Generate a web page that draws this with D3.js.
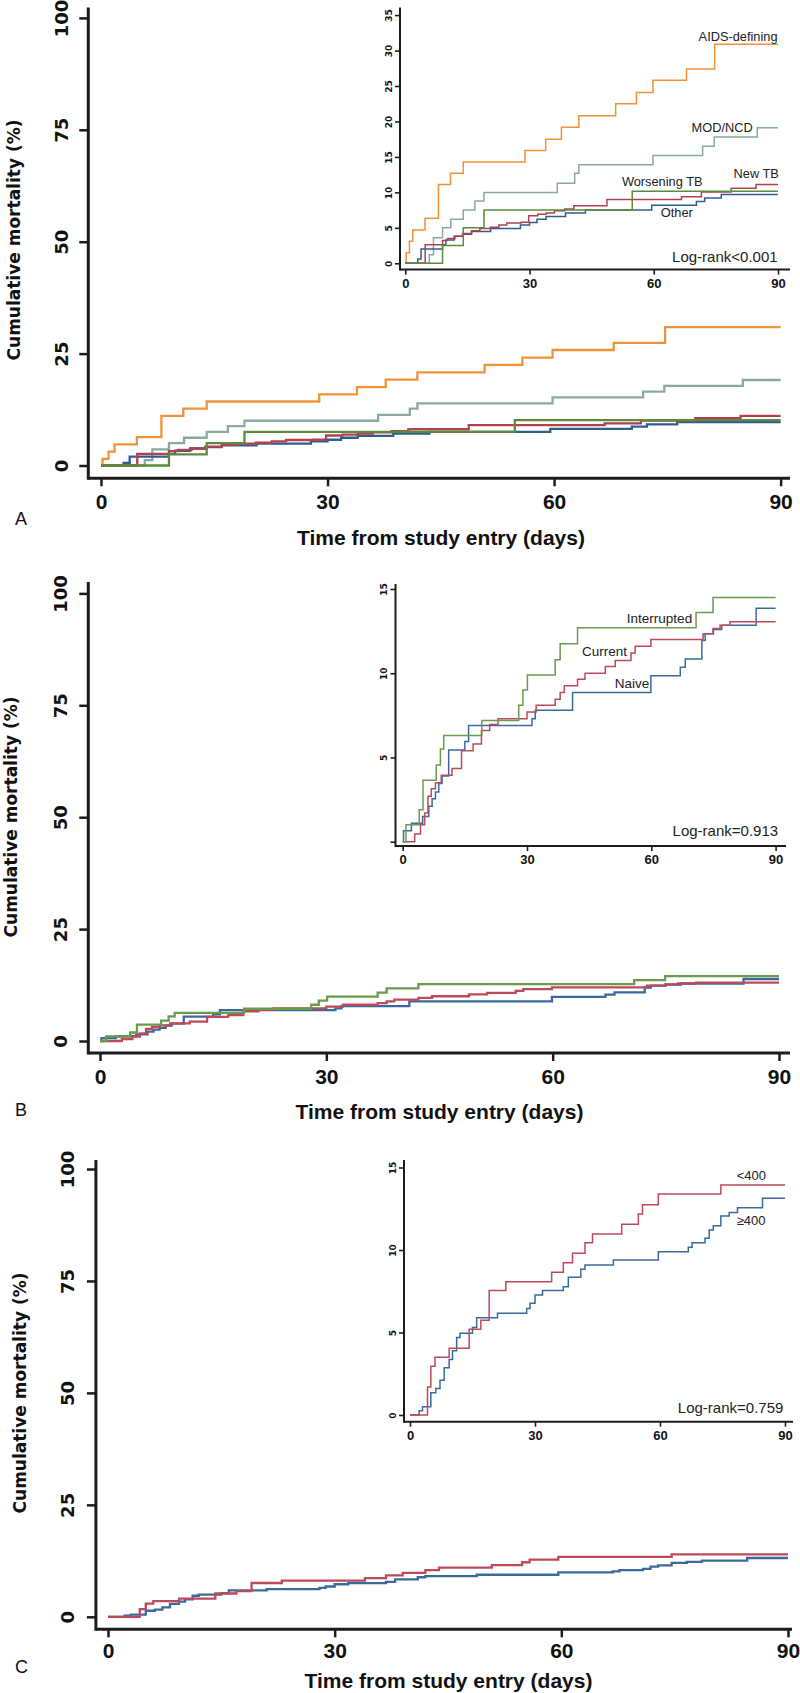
<!DOCTYPE html>
<html><head><meta charset="utf-8">
<script src="https://cdn.jsdelivr.net/npm/d3@7"></script>
<style>
html,body{margin:0;padding:0;background:#fff;}
svg{display:block;}
</style></head><body>
<svg id="chart" width="800" height="1693"></svg>
<script>
// ---------------- DATA ----------------
const timeTicks = [0, 30, 60, 90];
const mainYTicks = [0, 25, 50, 75, 100];
const insetAYTicks = [0, 5, 10, 15, 20, 25, 30, 35];
const insetBYTicks = [0, 5, 10, 15];
const insetCYTicks = [0, 5, 10, 15];

// Panel A: cause of death  ([day, cumulative mortality %])
const aAidsDefining = [[0,0],[0.2,1.5],[1,3.1],[1.8,4.7],[4.75,6.35],[8,11.1],[10.9,12.7],[14,14.3],[28.9,15.9],[33.9,17.5],[37.7,19.2],[41.9,20.8],[50.8,22.5],[55.8,24.1],[59.8,25.8],[67.9,27.4],[74.7,30.9],[90,30.9]];
const aModNcd = [[0,0],[5.8,1.2],[6.8,3.6],[9,5.0],[11,6.2],[14,7.5],[16.8,8.8],[19,10.0],[36.7,11.3],[40.9,12.7],[41.9,13.9],[59.8,15.2],[71.8,16.5],[74.6,17.8],[85,19.1],[90,19.1]];
const aWorseningTb = [[0,0],[9,2.5],[14,5.0],[19,7.5],[54.8,10.15],[90,10.15]];
const aNewTb = [[0,0],[4.8,2.6],[9,3.2],[10.2,3.5],[12,3.8],[13.8,4.2],[16,4.6],[18,4.9],[20.5,5.1],[22.6,5.4],[24.5,5.7],[28,5.8],[29.8,6.7],[32,6.9],[34,7.1],[36,7.4],[38.5,7.65],[40.7,8.1],[48.7,9.0],[66.7,9.4],[71.5,10.05],[78.7,10.6],[84.7,11.1],[90,11.1]];
const aOther = [[0,0],[3,0.6],[3.8,2.0],[9,2.6],[9.8,3.3],[11.8,3.8],[14,4.1],[16,4.5],[20.6,4.9],[27.8,5.4],[30,5.75],[31.8,6.2],[34,6.6],[38.7,7.1],[43.5,7.5],[59.5,8.2],[70.3,8.7],[72.3,9.2],[76.3,9.7],[90,9.7]];

// Panel B: ART status
const bInterrupted = [[0,0],[0.8,1.0],[4,1.9],[4.9,3.65],[8.1,4.55],[9.1,5.5],[9.9,6.3],[19.1,7.2],[28,8.1],[29,9.0],[30.1,9.9],[36.8,10.8],[38,11.75],[42.2,12.7],[70.8,13.6],[74.9,14.5],[90,14.5]];
const bCurrent = [[0,0],[2.9,0.45],[4.3,1.0],[5.3,1.7],[6.1,2.7],[6.9,3.15],[7.9,3.5],[9.3,3.95],[11.9,4.35],[14.2,5.4],[17,5.8],[19,6.6],[21,6.95],[23,7.3],[30,7.7],[32.2,8.1],[36.8,8.45],[38,8.85],[39,9.25],[42.2,9.65],[44,10.0],[48.9,10.4],[51.3,10.75],[55.1,11.2],[56.1,11.6],[59.9,12.0],[72.5,12.35],[74.9,12.65],[76.6,12.85],[79,13.05],[90,13.05]];
const bNaive = [[0,0],[0.2,0.65],[2.1,1.1],[4.8,1.5],[6.3,2.1],[7.1,2.55],[7.9,2.95],[8.7,3.45],[9.5,3.9],[11.1,5.45],[15,5.95],[15.9,6.9],[31.2,7.3],[32,7.8],[41,8.85],[59.9,9.85],[67,10.35],[68.2,10.85],[72.2,11.95],[73,12.35],[75,12.6],[77,12.85],[85.3,13.85],[90,13.85]];

// Panel C: CD4 count
const cBelow400 = [[0,0],[4.2,1.7],[5,2.95],[6,3.5],[9.4,4.05],[14.2,5.2],[17,5.75],[19,7.55],[23,8.08],[34,8.65],[36.8,9.23],[39,9.8],[42,10.44],[43.8,10.97],[50.8,11.56],[54.8,12.18],[55.8,12.75],[59.6,13.39],[74.6,13.94],[90,13.94]];
const cAtLeast400 = [[0,0],[2.2,0.26],[3,0.5],[5,1.35],[6.2,1.6],[7.2,2.1],[8.2,2.87],[9.4,3.37],[10.2,3.9],[11.2,4.7],[12,4.95],[15,5.3],[16,5.9],[21,6.16],[28,6.46],[28.8,6.77],[30,7.27],[31.8,7.54],[36.8,7.78],[38,8.35],[41,8.83],[42,9.09],[48.8,9.39],[59.6,9.9],[66.8,10.16],[67.7,10.44],[70.8,10.71],[71.8,11.21],[72.8,11.47],[74.6,12.06],[76.6,12.28],[78.6,12.56],[84.6,13.13],[90,13.13]];

// Inset labels: [text, day, value, anchor]
const aLabels = [["AIDS-defining",89.9,31.35,"end"],["MOD/NCD",83.9,18.5,"end"],["New TB",90.2,12.0,"end"],["Worsening TB",52.3,10.9,"start"],["Other",61.7,6.5,"start"]];
const bLabels = [["Interrupted",54.1,13.0,"start"],["Current",43.3,11.0,"start"],["Naive",51.2,9.1,"start"]];
const cLabels = [["<400",78.4,14.24,"start"],["\u2265400",78.4,11.5,"start"]];
const logRankA = ["Log-rank<0.001",89.9,0.2];
const logRankB = ["Log-rank=0.913",90.6,0.34];
const logRankC = ["Log-rank=0.759",89.6,0.12];

const panelLetters = ["A","B","C"];
const xTitle = "Time from study entry (days)";
const yTitle = "Cumulative mortality (%)";

// ---------------- STYLE ----------------
const C_ORANGE = "#f0923a", C_GREY = "#8aa8a2", C_GREEN = "#5b8c3c", C_RED = "#b3404f", C_BLUE = "#2f5e8e";
const C_GREEN_B = "#6a9a4c", C_RED_B = "#bd4a5a", C_BLUE_B = "#3a6a9c";
const AX = "#1c1c1c";
const FONT_WIDE = "'DejaVu Sans', Verdana, sans-serif";
const FONT_SANS = "'Liberation Sans', Arial, sans-serif";

const svg = d3.select("#chart");
svg.append("rect").attr("width",800).attr("height",1693).attr("fill","#fff");

function drawPlot(cfg) {
  const g = svg.append("g");
  const x = d3.scaleLinear().domain([0, 90]).range(cfg.xRange);
  const y = d3.scaleLinear().domain([0, cfg.yMax]).range(cfg.yRange);
  const inset = cfg.inset;

  // axis lines (L-shaped)
  g.append("line").attr("x1", cfg.yAxisX).attr("x2", cfg.yAxisX)
    .attr("y1", cfg.yAxisTop).attr("y2", cfg.xAxisY + (inset ? 1 : 1.5))
    .attr("stroke", AX).attr("stroke-width", inset ? 2 : 3);
  g.append("line").attr("x1", cfg.yAxisX).attr("x2", cfg.xAxisRight)
    .attr("y1", cfg.xAxisY).attr("y2", cfg.xAxisY)
    .attr("stroke", AX).attr("stroke-width", inset ? 2 : 3);

  // x axis ticks
  const xa = g.append("g").attr("transform", `translate(0,${cfg.xAxisY})`)
    .call(d3.axisBottom(x).tickValues(timeTicks).tickSize(inset ? 5 : 8).tickSizeOuter(0));
  xa.select(".domain").remove();
  xa.selectAll("line").attr("stroke", AX).attr("stroke-width", inset ? 1.6 : 2.5);
  xa.selectAll("text").attr("y", cfg.xLabelOff).attr("dy", 0)
    .attr("fill", "#111")
    .style("font-family", FONT_SANS).style("font-weight", "bold")
    .style("font-size", inset ? "13px" : "21px");

  // y axis ticks (rotated labels)
  const ya = g.append("g").attr("transform", `translate(${cfg.yAxisX},0)`)
    .call(d3.axisLeft(y).tickValues(cfg.yTicks).tickSize(inset ? 5 : 9).tickSizeOuter(0)
      .tickFormat(d => (cfg.hideZero && d === 0) ? "" : d));
  ya.select(".domain").remove();
  ya.selectAll("line").attr("stroke", AX).attr("stroke-width", inset ? 1.6 : 2.5);
  ya.selectAll("text").attr("x", 0).attr("dy", 0)
    .attr("transform", `translate(${-cfg.yLabelOff},0) rotate(-90)`)
    .attr("text-anchor", "middle").attr("fill", "#111")
    .style("font-family", FONT_WIDE).style("font-weight", "bold")
    .style("font-size", inset ? "9px" : "18px");

  // curves
  const line = d3.line().x(d => x(d[0])).y(d => y(d[1])).curve(d3.curveStepAfter);
  cfg.series.forEach(s => {
    g.append("path").datum(s.data).attr("d", line)
      .attr("fill", "none").attr("stroke", s.color)
      .attr("stroke-width", inset ? 1.5 : 2.3)
      .attr("stroke-linejoin", "miter");
  });

  // labels
  if (cfg.labels) {
    cfg.labels.forEach(l => {
      g.append("text").attr("x", x(l[1])).attr("y", y(l[2]))
        .attr("text-anchor", l[3]).attr("fill", "#222")
        .style("font-family", FONT_SANS).style("font-size", cfg.labelSize + "px")
        .text(l[0]);
    });
  }
  if (cfg.logRank) {
    g.append("text").attr("x", x(cfg.logRank[1])).attr("y", y(cfg.logRank[2]))
      .attr("text-anchor", "end").attr("fill", "#222")
      .style("font-family", FONT_SANS).style("font-size", "15px")
      .text(cfg.logRank[0]);
  }
}

function drawTitles(t) {
  svg.append("text").attr("x", t.letterX).attr("y", t.letterY)
    .style("font-family", FONT_SANS).style("font-size", "18px").attr("fill", "#111")
    .text(t.letter);
  svg.append("text").attr("x", t.xTitleX).attr("y", t.xTitleY)
    .attr("text-anchor", "middle").attr("fill", "#111")
    .style("font-family", FONT_SANS).style("font-weight", "bold").style("font-size", "21px")
    .text(xTitle);
  svg.append("text").attr("transform", `translate(${t.yTitleX},${t.yTitleY}) rotate(-90)`)
    .attr("text-anchor", "middle").attr("fill", "#111")
    .style("font-family", FONT_WIDE).style("font-weight", "bold").style("font-size", "17px")
    .text(yTitle);
}

// ---------------- PANEL A ----------------
const seriesA = [
  {data: aModNcd, color: C_GREY},
  {data: aAidsDefining, color: C_ORANGE},
  {data: aOther, color: C_BLUE},
  {data: aNewTb, color: C_RED},
  {data: aWorseningTb, color: C_GREEN}
];
drawPlot({xRange:[101,780.6], yRange:[465.5,17.9], yMax:100, yTicks:mainYTicks,
  yAxisX:88.3, yAxisTop:7.6, xAxisY:478.3, xAxisRight:790, xLabelOff:30.5, yLabelOff:20.5,
  series: seriesA});
drawPlot({inset:true, xRange:[405.3,778], yRange:[263.3,15.1], yMax:35, yTicks:insetAYTicks,
  yAxisX:400, yAxisTop:7.6, xAxisY:269.6, xAxisRight:790, xLabelOff:18, yLabelOff:8.5,
  series: seriesA, labels: aLabels, labelSize: 12.8, logRank: logRankA});
drawTitles({letter:panelLetters[0], letterX:15, letterY:524.5, xTitleX:441, xTitleY:544.5, yTitleX:20, yTitleY:240});

// ---------------- PANEL B ----------------
const seriesB = [
  {data: bNaive, color: C_BLUE_B},
  {data: bCurrent, color: C_RED_B},
  {data: bInterrupted, color: C_GREEN_B}
];
drawPlot({xRange:[100,779], yRange:[1041,593.4], yMax:100, yTicks:mainYTicks,
  yAxisX:88.3, yAxisTop:582, xAxisY:1053, xAxisRight:790, xLabelOff:30.5, yLabelOff:21.5,
  series: seriesB});
drawPlot({inset:true, hideZero:true, xRange:[402.7,775.6], yRange:[841.7,589], yMax:15, yTicks:insetBYTicks,
  yAxisX:395.5, yAxisTop:584, xAxisY:846, xAxisRight:786, xLabelOff:17.5, yLabelOff:9,
  series: seriesB, labels: bLabels, labelSize: 13.5, logRank: logRankB});
drawTitles({letter:panelLetters[1], letterX:15, letterY:1115.5, xTitleX:439.5, xTitleY:1119, yTitleX:17, yTitleY:817});

// ---------------- PANEL C ----------------
const seriesC = [
  {data: cAtLeast400, color: C_BLUE_B},
  {data: cBelow400, color: C_RED_B}
];
drawPlot({xRange:[108,788], yRange:[1616.8,1169], yMax:100, yTicks:mainYTicks,
  yAxisX:95.9, yAxisTop:1160, xAxisY:1629.3, xAxisRight:792, xLabelOff:29, yLabelOff:21.5,
  series: seriesC});
drawPlot({inset:true, xRange:[410,785], yRange:[1415,1167.5], yMax:15, yTicks:insetCYTicks,
  yAxisX:404, yAxisTop:1160, xAxisY:1421.7, xAxisRight:793, xLabelOff:18.5, yLabelOff:8.5,
  series: seriesC, labels: cLabels, labelSize: 13, logRank: logRankC});
drawTitles({letter:panelLetters[2], letterX:15, letterY:1672.5, xTitleX:448.5, xTitleY:1688, yTitleX:26, yTitleY:1393});
</script>
</body></html>
